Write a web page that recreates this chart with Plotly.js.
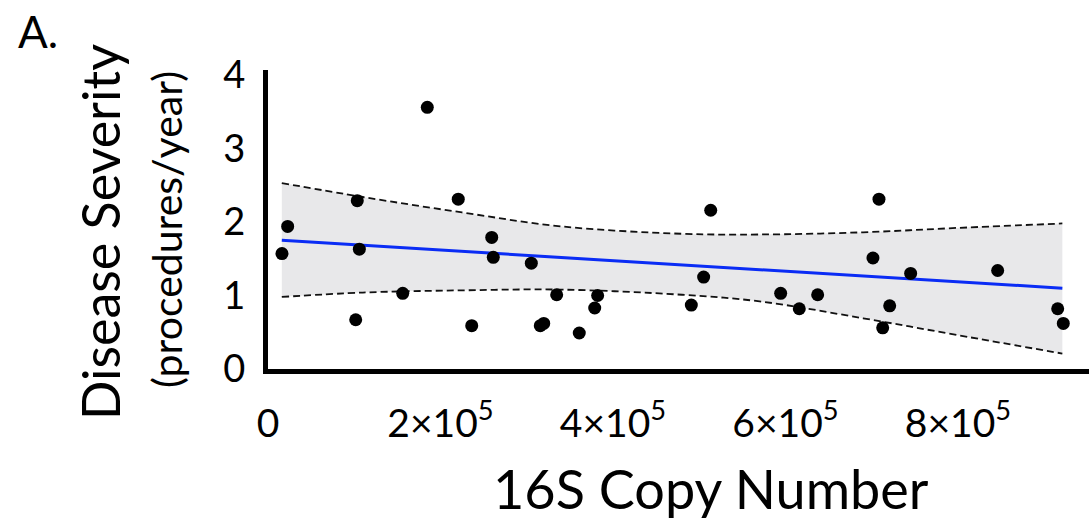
<!DOCTYPE html>
<html>
<head>
<meta charset="utf-8">
<script src="https://cdn.plot.ly/plotly-3.0.1.min.js"></script>
<style>html,body{margin:0;padding:0;background:#fff;}#chart{width:1089px;height:527px;}</style>
</head>
<body>
<div id="chart"></div>
<script>
// Observed points: 16S copy number vs disease severity (procedures/year)
const copyNumber = [16200, 22800, 103500, 105900, 101700, 156200, 184700, 220600, 236200, 259400,
  261200, 305300, 315700, 319700, 334700, 360900, 378800, 382200, 513300, 505100,
  490800, 594400, 616000, 637300, 708400, 701400, 720800, 712700, 745100, 846000,
  915600, 922100];
const severity = [1.57, 1.94, 2.29, 1.63, 0.67, 1.03, 3.56, 2.31, 0.59, 1.79,
  1.52, 1.44, 0.59, 0.62, 1.01, 0.49, 0.83, 1.00, 2.16, 1.25,
  0.87, 1.03, 0.82, 1.01, 2.31, 1.51, 0.86, 0.56, 1.30, 1.34,
  0.82, 0.62];

// Regression fit line
const fitX = [16000, 921000];
const fitY = [1.75, 1.10];

// Confidence band
const bandX = [16000, 110000, 225000, 340000, 480000, 570000, 690000, 800000, 921000];
const bandUpper = [2.53, 2.34, 2.13, 1.94, 1.84, 1.83, 1.86, 1.92, 1.98];
const bandLower = [0.98, 1.04, 1.07, 1.08, 1.01, 0.92, 0.69, 0.46, 0.21];

// Tick labels
const xTickVals = [0, 200000, 400000, 600000, 800000];
const xTickText = ["0", "2×10<sup>5</sup>", "4×10<sup>5</sup>", "6×10<sup>5</sup>", "8×10<sup>5</sup>"];
const yTickVals = [0, 1, 2, 3, 4];
const yTickText = ["0", "1", "2", "3", "4"];

const FONT = "Lato, 'Open Sans', sans-serif";

const traces = [
  {x: bandX, y: bandLower, type: 'scatter', mode: 'lines', line: {color: 'rgba(0,0,0,0)', width: 0, shape: 'spline'}, hoverinfo: 'skip', showlegend: false},
  {x: bandX, y: bandUpper, type: 'scatter', mode: 'lines', fill: 'tonexty', fillcolor: '#e8e8ea', line: {color: 'rgba(0,0,0,0)', width: 0, shape: 'spline'}, hoverinfo: 'skip', showlegend: false},
  {x: bandX, y: bandUpper, type: 'scatter', mode: 'lines', line: {color: '#111', width: 1.8, dash: '7px,4px', shape: 'spline'}, showlegend: false},
  {x: bandX, y: bandLower, type: 'scatter', mode: 'lines', line: {color: '#111', width: 1.8, dash: '7px,4px', shape: 'spline'}, showlegend: false},
  {x: fitX, y: fitY, type: 'scatter', mode: 'lines', line: {color: '#0a2cf5', width: 3}, showlegend: false},
  {x: copyNumber, y: severity, type: 'scatter', mode: 'markers', marker: {color: '#000', size: 13}, showlegend: false, cliponaxis: false}
];

const layout = {
  width: 1089, height: 527,
  margin: {l: 268, r: 0, t: 70, b: 158},
  paper_bgcolor: '#fff', plot_bgcolor: '#fff',
  showlegend: false,
  font: {family: FONT, color: '#000'},
  xaxis: {
    range: [0, 951900], showgrid: false, zeroline: false,
    showline: true, linecolor: '#000', linewidth: 5,
    tickvals: xTickVals, ticktext: xTickText, tickmode: 'array',
    ticks: '', ticklabelstandoff: 16,
    tickfont: {family: FONT, size: 39, color: '#000'}
  },
  yaxis: {
    range: [0, 4.068], showgrid: false, zeroline: false,
    showline: true, linecolor: '#000', linewidth: 5,
    tickvals: yTickVals, ticktext: yTickText, tickmode: 'array',
    ticks: '', ticklabelstandoff: 10,
    tickfont: {family: FONT, size: 38, color: '#000'}
  },
  annotations: [
    {text: 'A.', xref: 'paper', yref: 'paper', x: -268/821, y: (369-31)/299, xanchor: 'left', yanchor: 'middle', showarrow: false, font: {family: FONT, size: 44, color: '#000'}, xshift: 16},
    {text: 'Disease Severity', xref: 'paper', yref: 'paper', x: (100-268)/821, y: (369-232)/299, xanchor: 'center', yanchor: 'middle', textangle: -90, showarrow: false, font: {family: FONT, size: 52, color: '#000'}},
    {text: '(procedures/year)', xref: 'paper', yref: 'paper', x: (166-268)/821, y: (369-230)/299, xanchor: 'center', yanchor: 'middle', textangle: -90, showarrow: false, font: {family: FONT, size: 41, color: '#000'}},
    {text: '16S Copy Number', xref: 'paper', yref: 'paper', x: (711-268)/821, y: (369-488)/299, xanchor: 'center', yanchor: 'middle', showarrow: false, font: {family: FONT, size: 54, color: '#000'}}
  ]
};

Plotly.newPlot('chart', traces, layout, {staticPlot: true, displayModeBar: false});
</script>
</body>
</html>
